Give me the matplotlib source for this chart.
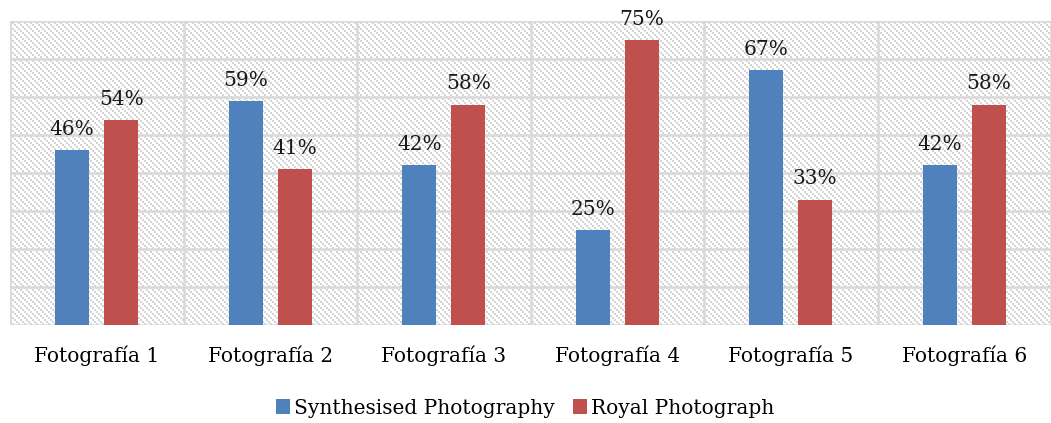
import matplotlib
matplotlib.use("Agg")
import matplotlib.pyplot as plt
import numpy as np

categories = ["Fotografía 1", "Fotografía 2", "Fotografía 3",
              "Fotografía 4", "Fotografía 5", "Fotografía 6"]
synthesised = [46, 59, 42, 25, 67, 42]
royal = [54, 41, 58, 75, 33, 58]
series_names = ["Synthesised Photography", "Royal Photograph"]

BLUE = "#4f81bd"
RED = "#c0504d"
GRID = "#d9d9d9"

plt.rcParams["font.family"] = ["DejaVu Serif"]

W, H = 1051, 423
fig = plt.figure(figsize=(W / 100, H / 100), dpi=100)
ax_l, ax_t, ax_r, ax_b = 10, 21, 1051, 325
ax = fig.add_axes([ax_l / W, (H - ax_b) / H, (ax_r - ax_l) / W, (ax_b - ax_t) / H])

x = np.arange(len(categories))
w = 0.197
gap = 0.086
off = (w + gap) / 2

ax.set_xlim(-0.5, len(categories) - 0.5)
ax.set_ylim(0, 80)

# diagonal staircase texture of 2x2-pixel blocks filling the plot area
pw, ph = ax_r - ax_l, ax_b - ax_t
yy, xx = np.mgrid[0:ph, 0:pw]
bx, by = xx // 2, yy // 2
mask = ((bx - by) % 3) == 0
tex = np.ones((ph, pw, 3))
tex[mask] = np.array([0xd4, 0xd4, 0xd4]) / 255.0
ax.imshow(tex, extent=(-0.5, len(categories) - 0.5, 0, 80), aspect="auto",
          interpolation="nearest", zorder=0)

for yv in range(0, 81, 10):
    ax.axhline(yv, color=GRID, lw=1.8, zorder=1)
for xv in np.arange(-0.5, len(categories), 1.0):
    ax.axvline(xv, color=GRID, lw=1.8, zorder=1)

b1 = ax.bar(x - off, synthesised, w, color=BLUE, zorder=3, label=series_names[0])
b2 = ax.bar(x + off, royal, w, color=RED, zorder=3, label=series_names[1])

for bars, vals in ((b1, synthesised), (b2, royal)):
    for rect, v in zip(bars, vals):
        ax.annotate(f"{v}%", (rect.get_x() + rect.get_width() / 2, v),
                    xytext=(0, 8), textcoords="offset points",
                    ha="center", va="bottom", fontsize=14.5, color="#1a1a1a",
                    zorder=4, annotation_clip=False)

ax.set_xticks(x)
ax.set_xticklabels(categories, fontsize=14.5)
ax.tick_params(axis="x", length=0, pad=15)
ax.set_yticks([])
for s in ax.spines.values():
    s.set_visible(False)

fig.legend(handles=[b1, b2], labels=series_names, loc="center",
           bbox_to_anchor=(525 / W, 1 - 408 / H), ncol=2, frameon=False,
           fontsize=14.5, handlelength=0.7, handleheight=0.7, handletextpad=0.2,
           columnspacing=0.9)

fig.savefig("out.png", dpi=100)
